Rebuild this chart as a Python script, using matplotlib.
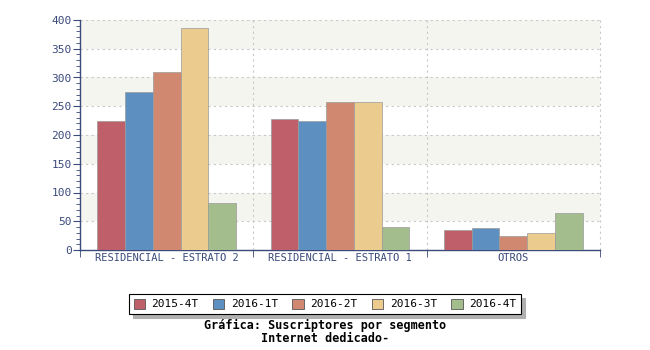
import matplotlib
matplotlib.use("Agg")
import matplotlib.pyplot as plt
import numpy as np

categories = ["RESIDENCIAL - ESTRATO 2", "RESIDENCIAL - ESTRATO 1", "OTROS"]
series_names = ["2015-4T", "2016-1T", "2016-2T", "2016-3T", "2016-4T"]
values = {
    "2015-4T": [224, 228, 35],
    "2016-1T": [274, 225, 38],
    "2016-2T": [310, 258, 25],
    "2016-3T": [386, 258, 29],
    "2016-4T": [82, 40, 65],
}
colors = ["#BE5F69", "#5D90C0", "#D08870", "#EBCC8E", "#A4BD8C"]
yticks = [0, 50, 100, 150, 200, 250, 300, 350, 400]

navy = "#3A4A7A"
plt.rcParams["font.family"] = ["DejaVu Sans Mono", "DejaVu Sans"]

fig = plt.figure(figsize=(6.5, 3.5), dpi=100)
ax = fig.add_axes([80/650, 1-250/350, 520/650, 230/350])

n = len(series_names)
group_w = 0.8
bw = group_w / n
x = np.arange(len(categories))
for i, s in enumerate(series_names):
    ax.bar(x - group_w/2 + bw*(i+0.5), values[s], width=bw, color=colors[i],
           edgecolor="#9a9a9a", linewidth=0.5, zorder=3)

ax.set_xlim(-0.5, len(categories)-0.5)
ax.set_ylim(0, 400)

# alternating bands
for k in range(0, 400, 100):
    ax.axhspan(k+50, k+100, color="#F5F5F0", zorder=0, linewidth=0)

ax.set_yticks(yticks)
ax.set_yticks(np.arange(0, 401, 10), minor=True)
ax.set_xticks(x)
ax.set_xticklabels(categories)
ax.set_xticks(np.arange(-0.5, len(categories), 1.0), minor=True)
ax.tick_params(axis="x", which="major", length=0, labelsize=7.5, colors=navy, pad=2)
ax.tick_params(axis="x", which="minor", length=5, color=navy, direction="out")
ax.tick_params(axis="y", which="major", length=5, labelsize=8, colors=navy, direction="out", pad=1)
ax.tick_params(axis="y", which="minor", length=3, color=navy, direction="out")

for yv in yticks[1:]:
    ax.axhline(yv, color="#C8C8C8", linestyle=(0, (2, 3)), linewidth=0.8, zorder=1)
for xv in np.arange(0.5, len(categories) + 0.5, 1.0):
    ax.axvline(xv, color="#C8C8C8", linestyle=(0, (2, 3)), linewidth=0.8, zorder=1, clip_on=False)

for sp in ["top", "right"]:
    ax.spines[sp].set_visible(False)
for sp in ["left", "bottom"]:
    ax.spines[sp].set_color(navy)
    ax.spines[sp].set_linewidth(1.0)

handles = [plt.Rectangle((0, 0), 1, 1, facecolor=c, edgecolor="#555555", linewidth=0.6) for c in colors]
leg = fig.legend(handles, series_names, loc="center", bbox_to_anchor=(0.5, 1-304/350),
                 ncol=5, frameon=True, fancybox=False, shadow={"ox": 3, "oy": -3, "color": "#B0B0B0", "alpha": 1.0},
                 fontsize=8, handlelength=1.0, handleheight=1.0, columnspacing=1.3,
                 handletextpad=0.6, borderpad=0.4)
leg.get_frame().set_edgecolor("black")
leg.get_frame().set_linewidth(0.8)

fig.text(0.5, 1-325/350, "Gráfica: Suscriptores por segmento", ha="center", va="center",
         fontsize=8.5, fontweight="bold")
fig.text(0.5, 1-338/350, "Internet dedicado-", ha="center", va="center",
         fontsize=8.5, fontweight="bold")

fig.savefig("out.png", dpi=100)
